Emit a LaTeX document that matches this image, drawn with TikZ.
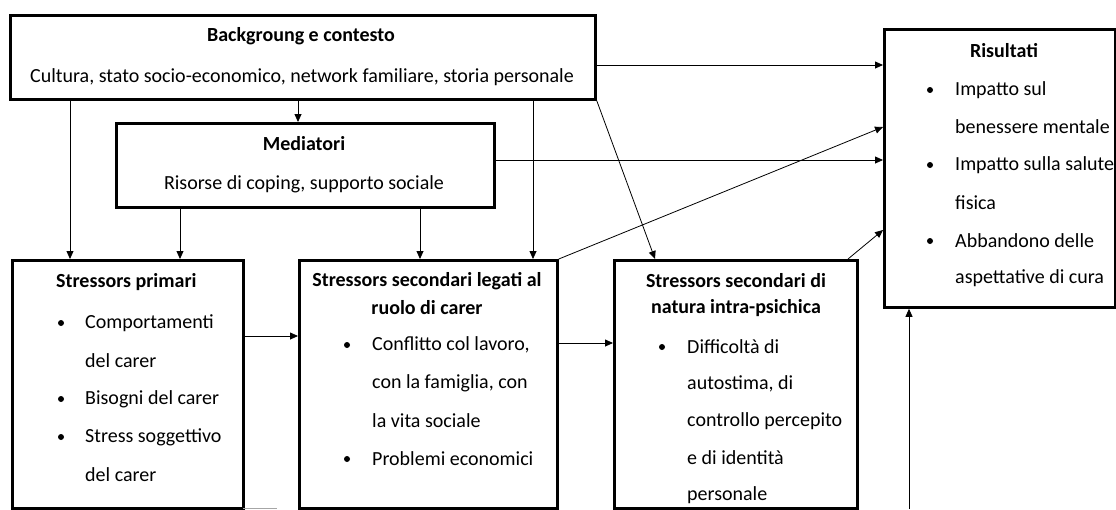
\documentclass[tikz,border=0pt]{standalone}
\usepackage{fontspec}
\setmainfont{Carlito}
\usetikzlibrary{arrows.meta}
\tikzset{
  box/.style={draw=black, line width=2.8pt, fill=none, inner sep=0pt, anchor=north west},
  arr/.style={line width=0.8pt, -{Triangle[length=8pt,width=7pt]}},
  ttl/.style={font=\fontsize{20}{24}\selectfont\bfseries, inner sep=0pt},
  txt/.style={font=\fontsize{20}{24}\selectfont, inner sep=0pt, anchor=west},
  ctxt/.style={font=\fontsize{20}{24}\selectfont, inner sep=0pt},
  bul/.style={circle, fill=black, inner sep=0pt, minimum size=6pt},
}
\begin{document}
\begin{tikzpicture}[x=1pt,y=-1pt]
\useasboundingbox (0,0) rectangle (1116,509);
% boxes
\node[box, minimum width=585pt, minimum height=84pt] (bg) at (9,14) {};
\node[box, minimum width=378pt, minimum height=84pt] (med) at (115,122) {};
\node[box, minimum width=231pt, minimum height=248pt] (prim) at (11,259) {};
\node[box, minimum width=258pt, minimum height=248pt] (ruolo) at (298,259) {};
\node[box, minimum width=243pt, minimum height=248pt] (intra) at (613,259) {};
\node[box, minimum width=231pt, minimum height=278pt] (ris) at (883,28) {};
% texts: background
\node[ttl] (bgt) at (301,36) {Backgroung e contesto};
\node[ctxt] (bgs) at (302,77) {Cultura, stato socio-economico, network familiare, storia personale};
\node[ttl] (medt) at (304,144) {Mediatori};
\node[ctxt] (meds) at (304,184) {Risorse di coping, supporto sociale};
% primari
\node[ttl, anchor=west] (primt) at (56,282) {Stressors primari};
\node[bul] (pb1) at (61,323) {};
\node[txt] (p1) at (85,323) {Comportamenti};
\node[txt] (p2) at (85,361) {del carer};
\node[bul] (pb2) at (61,399) {};
\node[txt] (p3) at (85,399) {Bisogni del carer};
\node[bul] (pb3) at (61,437) {};
\node[txt] (p4) at (85,437) {Stress soggettivo};
\node[txt] (p5) at (85,475) {del carer};
% ruolo
\node[ttl] (rt1) at (427,281) {Stressors secondari legati al};
\node[ttl] (rt2) at (427,308) {ruolo di carer};
\node[bul] (rb1) at (347,345) {};
\node[txt] (r1) at (372,345) {Conflitto col lavoro,};
\node[txt] (r2) at (372,383) {con la famiglia, con};
\node[txt] (r3) at (372,421) {la vita sociale};
\node[bul] (rb2) at (347,459) {};
\node[txt] (r4) at (372,459) {Problemi economici};
% intra
\node[ttl] (it1) at (736,281) {Stressors secondari di};
\node[ttl] (it2) at (736,308) {natura intra-psichica};
\node[bul] (ib1) at (662,347) {};
\node[txt] (i1) at (687,347) {Difficoltà di};
\node[txt] (i2) at (687,384) {autostima, di};
\node[txt] (i3) at (687,421) {controllo percepito};
\node[txt] (i4) at (687,458) {e di identità};
\node[txt] (i5) at (687,495) {personale};
% risultati
\node[ttl] (rst) at (1004,51) {Risultati};
\node[bul] (sb1) at (930,90) {};
\node[txt] (s1) at (955,90) {Impatto sul};
\node[txt] (s2) at (955,127) {benessere mentale};
\node[bul] (sb2) at (930,165) {};
\node[txt] (s3) at (955,165) {Impatto sulla salute};
\node[txt] (s4) at (955,203) {fisica};
\node[bul] (sb3) at (930,241) {};
\node[txt] (s5) at (955,241) {Abbandono delle};
\node[txt] (s6) at (955,278) {aspettative di cura};
% connectors
\coordinate (c70) at (70,0);
\coordinate (c180) at (180,0);
\coordinate (c298) at (298,0);
\coordinate (c420) at (420,0);
\coordinate (c533) at (533,0);
\coordinate (c655) at (655,0);
\coordinate (c848) at (848,0);
\coordinate (c909) at (909,509);
\coordinate (y65) at (0,65);
\coordinate (y160) at (0,160);
\coordinate (y127) at (0,127);
\coordinate (y230) at (0,230);
\coordinate (y336) at (0,336);
\coordinate (y343) at (0,343);
\draw[arr] (bg.south -| c298) -- (med.north -| c298);
\draw[arr] (bg.south -| c70) -- (prim.north -| c70);
\draw[arr] (med.south -| c180) -- (prim.north -| c180);
\draw[arr] (med.south -| c420) -- (ruolo.north -| c420);
\draw[arr] (bg.south -| c533) -- (ruolo.north -| c533);
\draw[arr] (bg.south east) -- (intra.north -| c655);
\draw[arr] (bg.east |- y65) -- (ris.west |- y65);
\draw[arr] (med.east |- y160) -- (ris.west |- y160);
\draw[arr] (ruolo.north east) -- (ris.west |- y127);
\draw[arr] (intra.north -| c848) -- (ris.west |- y230);
\draw[arr] (prim.east |- y336) -- (ruolo.west |- y336);
\draw[arr] (ruolo.east |- y343) -- (intra.west |- y343);
\draw[arr] (c909) -- (ris.south -| c909);
\coordinate (g1) at (243,508);
\coordinate (g2) at (277,508);
\draw[gray!70, line width=0.8pt] (g1) -- (g2);
\end{tikzpicture}
\end{document}
